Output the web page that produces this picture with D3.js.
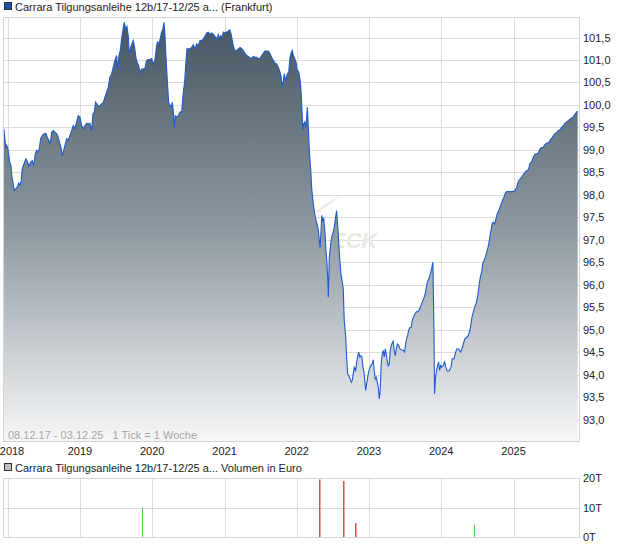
<!DOCTYPE html>
<html>
<head>
<meta charset="utf-8">
<script src="https://cdn.jsdelivr.net/npm/d3@7/dist/d3.min.js"></script>
<style>
  body { margin: 0; background: #fff; }
  svg text { font-family: "Liberation Sans", Arial, sans-serif; }
</style>
</head>
<body>
<div class="chart"></div>
<script>
// Data (decimal year, price)
//= ================================
var startDate = "2017-12-08";
var endDate = "2025-12-03";

var priceYears = [
  2017.934, 2017.948, 2017.962, 2017.976, 2017.985, 2017.999, 2018.013, 2018.027, 2018.045, 2018.059,
  2018.077, 2018.090, 2018.110, 2018.132, 2018.151, 2018.169, 2018.187, 2018.201, 2018.225, 2018.252,
  2018.270, 2018.294, 2018.317, 2018.340, 2018.359, 2018.381, 2018.400, 2018.418, 2018.436, 2018.456,
  2018.478, 2018.506, 2018.529, 2018.547, 2018.571, 2018.589, 2018.608, 2018.630, 2018.654, 2018.677,
  2018.699, 2018.723, 2018.737, 2018.755, 2018.769, 2018.792, 2018.816, 2018.838, 2018.861, 2018.885,
  2018.907, 2018.931, 2018.954, 2018.976, 2019.000, 2019.023, 2019.045, 2019.069, 2019.092, 2019.115,
  2019.138, 2019.162, 2019.180, 2019.198, 2019.217, 2019.235, 2019.259, 2019.277, 2019.300, 2019.322,
  2019.346, 2019.369, 2019.392, 2019.415, 2019.439, 2019.461, 2019.484, 2019.508, 2019.522, 2019.540,
  2019.558, 2019.577, 2019.595, 2019.613, 2019.633, 2019.651, 2019.669, 2019.682, 2019.702, 2019.720,
  2019.738, 2019.757, 2019.775, 2019.793, 2019.812, 2019.830, 2019.854, 2019.876, 2019.900, 2019.923,
  2019.945, 2019.969, 2019.992, 2020.015, 2020.038, 2020.062, 2020.075, 2020.093, 2020.111, 2020.131,
  2020.149, 2020.163, 2020.176, 2020.190, 2020.208, 2020.228, 2020.246, 2020.264, 2020.278, 2020.291,
  2020.305, 2020.319, 2020.338, 2020.361, 2020.384, 2020.408, 2020.430, 2020.449, 2020.463, 2020.481,
  2020.499, 2020.522, 2020.546, 2020.568, 2020.592, 2020.615, 2020.637, 2020.661, 2020.684, 2020.706,
  2020.734, 2020.753, 2020.775, 2020.799, 2020.822, 2020.845, 2020.868, 2020.892, 2020.914, 2020.928,
  2020.947, 2020.969, 2020.983, 2021.007, 2021.030, 2021.053, 2021.072, 2021.090, 2021.108, 2021.122,
  2021.141, 2021.159, 2021.177, 2021.197, 2021.215, 2021.238, 2021.260, 2021.284, 2021.307, 2021.330,
  2021.353, 2021.377, 2021.399, 2021.422, 2021.446, 2021.468, 2021.491, 2021.515, 2021.537, 2021.560,
  2021.584, 2021.606, 2021.630, 2021.653, 2021.675, 2021.699, 2021.722, 2021.745, 2021.768, 2021.782,
  2021.796, 2021.814, 2021.827, 2021.841, 2021.855, 2021.869, 2021.889, 2021.907, 2021.925, 2021.939,
  2021.953, 2021.972, 2021.990, 2022.008, 2022.027, 2022.045, 2022.059, 2022.073, 2022.083, 2022.097,
  2022.111, 2022.125, 2022.138, 2022.147, 2022.161, 2022.174, 2022.194, 2022.208, 2022.222, 2022.236,
  2022.253, 2022.267, 2022.281, 2022.299, 2022.313, 2022.323, 2022.337, 2022.346, 2022.360, 2022.374,
  2022.392, 2022.405, 2022.419, 2022.433, 2022.437, 2022.451, 2022.470, 2022.484, 2022.506, 2022.520,
  2022.538, 2022.552, 2022.566, 2022.580, 2022.594, 2022.612, 2022.630, 2022.644, 2022.658, 2022.677,
  2022.691, 2022.705, 2022.723, 2022.741, 2022.755, 2022.769, 2022.783, 2022.796, 2022.816, 2022.830,
  2022.843, 2022.857, 2022.875, 2022.889, 2022.903, 2022.917, 2022.931, 2022.945, 2022.954, 2022.968,
  2022.982, 2023.000, 2023.014, 2023.028, 2023.046, 2023.060, 2023.073, 2023.087, 2023.101, 2023.115,
  2023.129, 2023.143, 2023.156, 2023.170, 2023.184, 2023.198, 2023.212, 2023.226, 2023.240, 2023.253,
  2023.267, 2023.281, 2023.295, 2023.309, 2023.322, 2023.336, 2023.350, 2023.364, 2023.383, 2023.397,
  2023.411, 2023.429, 2023.453, 2023.475, 2023.494, 2023.508, 2023.522, 2023.536, 2023.549, 2023.567,
  2023.585, 2023.599, 2023.619, 2023.637, 2023.655, 2023.674, 2023.692, 2023.710, 2023.729, 2023.747,
  2023.765, 2023.784, 2023.803, 2023.816, 2023.830, 2023.844, 2023.858, 2023.872, 2023.886, 2023.900,
  2023.909, 2023.923, 2023.937, 2023.951, 2023.965, 2023.979, 2023.993, 2024.007, 2024.029, 2024.048,
  2024.066, 2024.084, 2024.112, 2024.135, 2024.153, 2024.177, 2024.195, 2024.214, 2024.242, 2024.270,
  2024.288, 2024.306, 2024.329, 2024.353, 2024.375, 2024.398, 2024.412, 2024.426, 2024.444, 2024.463,
  2024.481, 2024.499, 2024.513, 2024.527, 2024.541, 2024.560, 2024.574, 2024.592, 2024.610, 2024.629,
  2024.647, 2024.661, 2024.675, 2024.689, 2024.703, 2024.721, 2024.740, 2024.758, 2024.776, 2024.796,
  2024.813, 2024.831, 2024.851, 2024.869, 2024.887, 2024.906, 2024.952, 2024.997, 2025.021, 2025.044,
  2025.062, 2025.080, 2025.104, 2025.127, 2025.149, 2025.173, 2025.196, 2025.214, 2025.228, 2025.251,
  2025.274, 2025.297, 2025.321, 2025.343, 2025.367, 2025.390, 2025.412, 2025.436, 2025.459, 2025.482,
  2025.505, 2025.529, 2025.551, 2025.574, 2025.598, 2025.620, 2025.644, 2025.667, 2025.689, 2025.713,
  2025.736, 2025.758, 2025.782, 2025.805, 2025.827, 2025.851, 2025.874, 2025.888
];

var priceValues = [
  99.50, 99.45, 99.21, 99.02, 99.10, 99.05, 98.91, 98.73, 98.65, 98.39,
  98.24, 98.10, 98.13, 98.17, 98.26, 98.22, 98.32, 98.58, 98.69, 98.80,
  98.75, 98.63, 98.73, 98.76, 98.65, 98.91, 98.99, 98.95, 99.02, 99.25,
  99.32, 99.36, 99.36, 99.28, 99.21, 99.13, 99.39, 99.43, 99.39, 99.36,
  99.28, 99.13, 99.06, 98.87, 98.95, 99.10, 99.25, 99.21, 99.32, 99.43,
  99.54, 99.47, 99.62, 99.76, 99.73, 99.54, 99.47, 99.54, 99.59, 99.58,
  99.59, 99.43, 99.80, 99.84, 100.06, 100.02, 99.96, 99.99, 100.02, 100.05,
  100.17, 100.28, 100.39, 100.62, 100.69, 100.84, 100.99, 101.10, 100.77, 101.10,
  101.21, 101.47, 101.66, 101.84, 101.69, 101.75, 101.54, 101.14, 101.28, 101.36,
  101.43, 101.28, 101.06, 100.95, 100.88, 100.73, 100.80, 100.80, 100.81, 100.99,
  101.01, 101.01, 101.03, 100.91, 100.99, 101.32, 101.40, 101.36, 101.47, 101.62,
  101.69, 101.84, 101.58, 101.10, 100.58, 100.06, 99.99, 99.95, 100.06, 99.88,
  99.50, 99.76, 99.73, 99.76, 99.84, 99.85, 100.28, 100.51, 100.88, 101.25,
  101.25, 101.25, 101.28, 101.34, 101.25, 101.36, 101.32, 101.43, 101.43, 101.47,
  101.54, 101.60, 101.62, 101.57, 101.60, 101.57, 101.52, 101.47, 101.57, 101.47,
  101.54, 101.51, 101.62, 101.60, 101.62, 101.64, 101.67, 101.58, 101.43, 101.32,
  101.21, 101.20, 101.23, 101.25, 101.28, 101.25, 101.21, 101.15, 101.10, 101.08,
  101.04, 101.04, 101.08, 101.06, 101.06, 101.03, 101.04, 101.10, 101.15, 101.20,
  101.20, 101.20, 101.14, 101.06, 100.99, 100.93, 100.91, 100.84, 100.73, 100.65,
  100.39, 100.54, 100.69, 100.54, 100.62, 100.69, 100.73, 101.06, 101.17, 101.21,
  101.10, 101.03, 100.95, 100.77, 100.73, 100.58, 100.32, 99.88, 99.45, 99.58,
  99.62, 99.50, 99.73, 99.95, 99.50, 98.99, 98.54, 98.13, 97.91, 97.72,
  97.54, 97.43, 97.35, 97.21, 96.98, 96.83, 97.21, 97.54, 97.43, 97.47,
  97.13, 96.76, 96.46, 96.02, 95.72, 96.61, 96.91, 97.06, 97.17, 97.28,
  97.50, 97.65, 97.35, 96.98, 96.61, 96.24, 96.06, 95.91, 95.20, 94.87,
  94.39, 94.02, 93.96, 93.90, 93.83, 93.87, 94.02, 94.16, 94.09, 94.28,
  94.39, 94.50, 94.39, 94.42, 94.39, 94.16, 94.05, 93.83, 93.65, 93.79,
  93.94, 94.09, 94.16, 94.20, 94.24, 94.33, 94.09, 93.90, 93.94, 93.83,
  93.72, 93.46, 93.65, 94.24, 94.46, 94.54, 94.39, 94.57, 94.46, 94.31,
  94.20, 94.24, 94.54, 94.65, 94.70, 94.74, 94.54, 94.42, 94.61, 94.68,
  94.65, 94.57, 94.55, 94.54, 94.50, 94.68, 94.80, 94.87, 94.98, 95.04,
  95.05, 95.20, 95.28, 95.35, 95.39, 95.40, 95.42, 95.50, 95.57, 95.65,
  95.72, 95.83, 96.02, 96.09, 96.13, 96.20, 96.28, 96.39, 96.50, 95.05,
  93.57, 93.94, 94.09, 94.20, 94.28, 94.09, 94.20, 94.16, 94.20, 94.28,
  94.16, 94.08, 94.08, 94.16, 94.35, 94.35, 94.46, 94.57, 94.57, 94.50,
  94.57, 94.68, 94.80, 94.83, 94.87, 94.98, 95.13, 95.28, 95.39, 95.50,
  95.57, 95.69, 95.83, 96.02, 96.17, 96.28, 96.46, 96.54, 96.61, 96.72,
  96.83, 96.94, 97.09, 97.21, 97.35, 97.39, 97.35, 97.47, 97.58, 97.65,
  97.72, 97.80, 97.89, 97.95, 98.04, 98.07, 98.07, 98.07, 98.10, 98.17,
  98.28, 98.33, 98.38, 98.43, 98.48, 98.53, 98.54, 98.61, 98.70, 98.73,
  98.84, 98.90, 98.91, 98.93, 99.02, 99.05, 99.06, 99.12, 99.15, 99.15,
  99.21, 99.26, 99.32, 99.36, 99.39, 99.43, 99.45, 99.50, 99.54, 99.59,
  99.62, 99.65, 99.68, 99.71, 99.74, 99.79, 99.84, 99.86
];

// Volume (Euro) bars, up = green / down = red
var volumeYears = [2019.862, 2022.302, 2022.642, 2022.810, 2024.457];
var volumeValues = [10000, 19500, 19000, 4700, 4200];
var volumeUp = [true, false, false, false, true];

// Ticks
var yearTicks = [2018, 2019, 2020, 2021, 2022, 2023, 2024, 2025];
var priceTicks = [93.0, 93.5, 94.0, 94.5, 95.0, 95.5, 96.0, 96.5, 97.0, 97.5, 98.0, 98.5, 99.0, 99.5, 100.0, 100.5, 101.0, 101.5];
var volumeTicks = [0, 10000, 20000];
var volumeTickLabels = ["0T", "10T", "20T"];

var title = "Carrara Tilgungsanleihe 12b/17-12/25 a... (Frankfurt)";
var volumeTitle = "Carrara Tilgungsanleihe 12b/17-12/25 a... Volumen in Euro";
var rangeText = "08.12.17 - 03.12.25   1 Tick = 1 Woche";

// Step 1: Set up chart
//= ================================
var svgWidth = 620;
var svgHeight = 546;
var plot = { left: 3, right: 579, top: 17, bottom: 441 };
var volPlot = { top: 478, bottom: 537 };

function yearToDate(t) {
  var yr = Math.floor(t);
  var a = new Date(yr, 0, 1), b = new Date(yr + 1, 0, 1);
  return new Date(+a + (t - yr) * (b - a));
}
var parseDate = d3.timeParse("%Y-%m-%d");

var priceData = priceYears.map((t, i) => ({ date: yearToDate(t), value: priceValues[i] }));
var volumeData = volumeYears.map((t, i) => ({ date: yearToDate(t), value: volumeValues[i], up: volumeUp[i] }));

var svg = d3.select(".chart")
  .append("svg")
  .attr("width", svgWidth)
  .attr("height", svgHeight);

// Step 2: scales
//= ================================
var xScale = d3.scaleTime()
  .domain([parseDate(startDate), parseDate(endDate)])
  .range([plot.left, 580]);

var yScale = d3.scaleLinear()
  .domain([93, 101.5])
  .range([419.5, 37.5]);

var vScale = d3.scaleLinear()
  .domain([0, 20000])
  .range([volPlot.bottom, volPlot.top]);

var fmt = d3.format(".1f");
var deNum = v => fmt(v).replace(".", ",");

// gradient
var defs = svg.append("defs");
var grad = defs.append("linearGradient")
  .attr("id", "areaGrad")
  .attr("gradientUnits", "userSpaceOnUse")
  .attr("x1", 0).attr("y1", 30).attr("x2", 0).attr("y2", plot.bottom);
grad.append("stop").attr("offset", "0").attr("stop-color", "#485965");
grad.append("stop").attr("offset", "0.5").attr("stop-color", "#909ba3");
grad.append("stop").attr("offset", "1").attr("stop-color", "#f6f7f8");

// Step 3: legend
//= ================================
svg.append("rect")
  .attr("x", 4.5).attr("y", 2.5).attr("width", 7).attr("height", 7)
  .attr("fill", "#1d4fae").attr("stroke", "#333");
svg.append("text")
  .attr("x", 15).attr("y", 10.5)
  .attr("font-size", 11).attr("fill", "#222")
  .text(title);

// Step 4: grid
//= ================================
var grid = svg.append("g");
grid.selectAll(".hgrid")
  .data(priceTicks)
  .enter()
  .append("line")
  .attr("x1", plot.left).attr("x2", plot.right)
  .attr("y1", d => Math.round(yScale(d)) + 0.5)
  .attr("y2", d => Math.round(yScale(d)) + 0.5)
  .attr("stroke", "#dcdcdc");

grid.selectAll(".vgrid")
  .data(yearTicks)
  .enter()
  .append("line")
  .attr("x1", d => Math.round(xScale(new Date(d, 0, 1))) + 0.5)
  .attr("x2", d => Math.round(xScale(new Date(d, 0, 1))) + 0.5)
  .attr("y1", plot.top).attr("y2", plot.bottom)
  .attr("stroke", "#dcdcdc");

// watermark
svg.append("path")
  .attr("d", "M315,212 Q326,203 340,196 Q329,205 317,213 Z")
  .attr("fill", "#ebe7e2");
svg.append("text")
  .attr("x", 331).attr("y", 248)
  .attr("font-size", 22).attr("font-style", "italic").attr("font-weight", "bold")
  .attr("fill", "#ece9e4")
  .text("ECK");

// Step 5: area + line
//= ================================
var area = d3.area()
  .x(d => xScale(d.date))
  .y0(plot.bottom)
  .y1(d => yScale(d.value));

svg.append("path")
  .datum(priceData)
  .attr("d", area)
  .attr("fill", "url(#areaGrad)");

var line = d3.line()
  .x(d => xScale(d.date))
  .y(d => yScale(d.value));

svg.append("path")
  .datum(priceData)
  .attr("d", line)
  .attr("fill", "none")
  .attr("stroke", "#1f5bcc")
  .attr("stroke-width", 1.1);

// frame
svg.append("rect")
  .attr("x", plot.left + 0.5).attr("y", plot.top + 0.5)
  .attr("width", plot.right - plot.left).attr("height", plot.bottom - plot.top)
  .attr("fill", "none").attr("stroke", "#d4d4d4");

svg.append("text")
  .attr("x", 8).attr("y", 438.5)
  .attr("font-size", 11).attr("fill", "#a9a59e")
  .attr("xml:space", "preserve")
  .style("white-space", "pre")
  .text(rangeText);

// Step 6: axes labels
//= ================================
svg.selectAll(".ylab")
  .data(priceTicks)
  .enter()
  .append("text")
  .attr("x", 583)
  .attr("y", d => yScale(d) + 4)
  .attr("font-size", 11).attr("fill", "#222")
  .text(d => deNum(d));

svg.selectAll(".xlab")
  .data(yearTicks)
  .enter()
  .append("text")
  .attr("x", d => Math.max(xScale(new Date(d, 0, 1)), 12))
  .attr("y", 455)
  .attr("text-anchor", "middle")
  .attr("font-size", 11).attr("fill", "#222")
  .text(d => d);

// Step 7: volume panel
//= ================================
svg.append("rect")
  .attr("x", 4.5).attr("y", 463.5).attr("width", 7).attr("height", 7)
  .attr("fill", "#bdbdbd").attr("stroke", "#333");
svg.append("text")
  .attr("x", 15).attr("y", 471.5)
  .attr("font-size", 11).attr("fill", "#222")
  .text(volumeTitle);

svg.selectAll(".vhgrid")
  .data(volumeTicks)
  .enter()
  .append("line")
  .attr("x1", plot.left).attr("x2", plot.right)
  .attr("y1", d => Math.round(vScale(d)) + 0.5)
  .attr("y2", d => Math.round(vScale(d)) + 0.5)
  .attr("stroke", "#dcdcdc");

svg.selectAll(".vvgrid")
  .data(yearTicks)
  .enter()
  .append("line")
  .attr("x1", d => Math.round(xScale(new Date(d, 0, 1))) + 0.5)
  .attr("x2", d => Math.round(xScale(new Date(d, 0, 1))) + 0.5)
  .attr("y1", volPlot.top).attr("y2", volPlot.bottom)
  .attr("stroke", "#dcdcdc");

svg.append("rect")
  .attr("x", plot.left + 0.5).attr("y", volPlot.top + 0.5)
  .attr("width", plot.right - plot.left).attr("height", volPlot.bottom - volPlot.top)
  .attr("fill", "none").attr("stroke", "#d4d4d4");

svg.selectAll(".vbar")
  .data(volumeData)
  .enter()
  .append("rect")
  .attr("x", d => Math.round(xScale(d.date)))
  .attr("width", d => d.up ? 1 : 1.5)
  .attr("y", d => vScale(d.value))
  .attr("height", d => vScale(0) - vScale(d.value))
  .attr("fill", d => d.up ? "#4fd24f" : "#e04a4a");

svg.selectAll(".vlab")
  .data(volumeTicks)
  .enter()
  .append("text")
  .attr("x", 583)
  .attr("y", d => vScale(d) + 4)
  .attr("font-size", 11).attr("fill", "#222")
  .text((d, i) => volumeTickLabels[i]);
</script>
</body>
</html>
